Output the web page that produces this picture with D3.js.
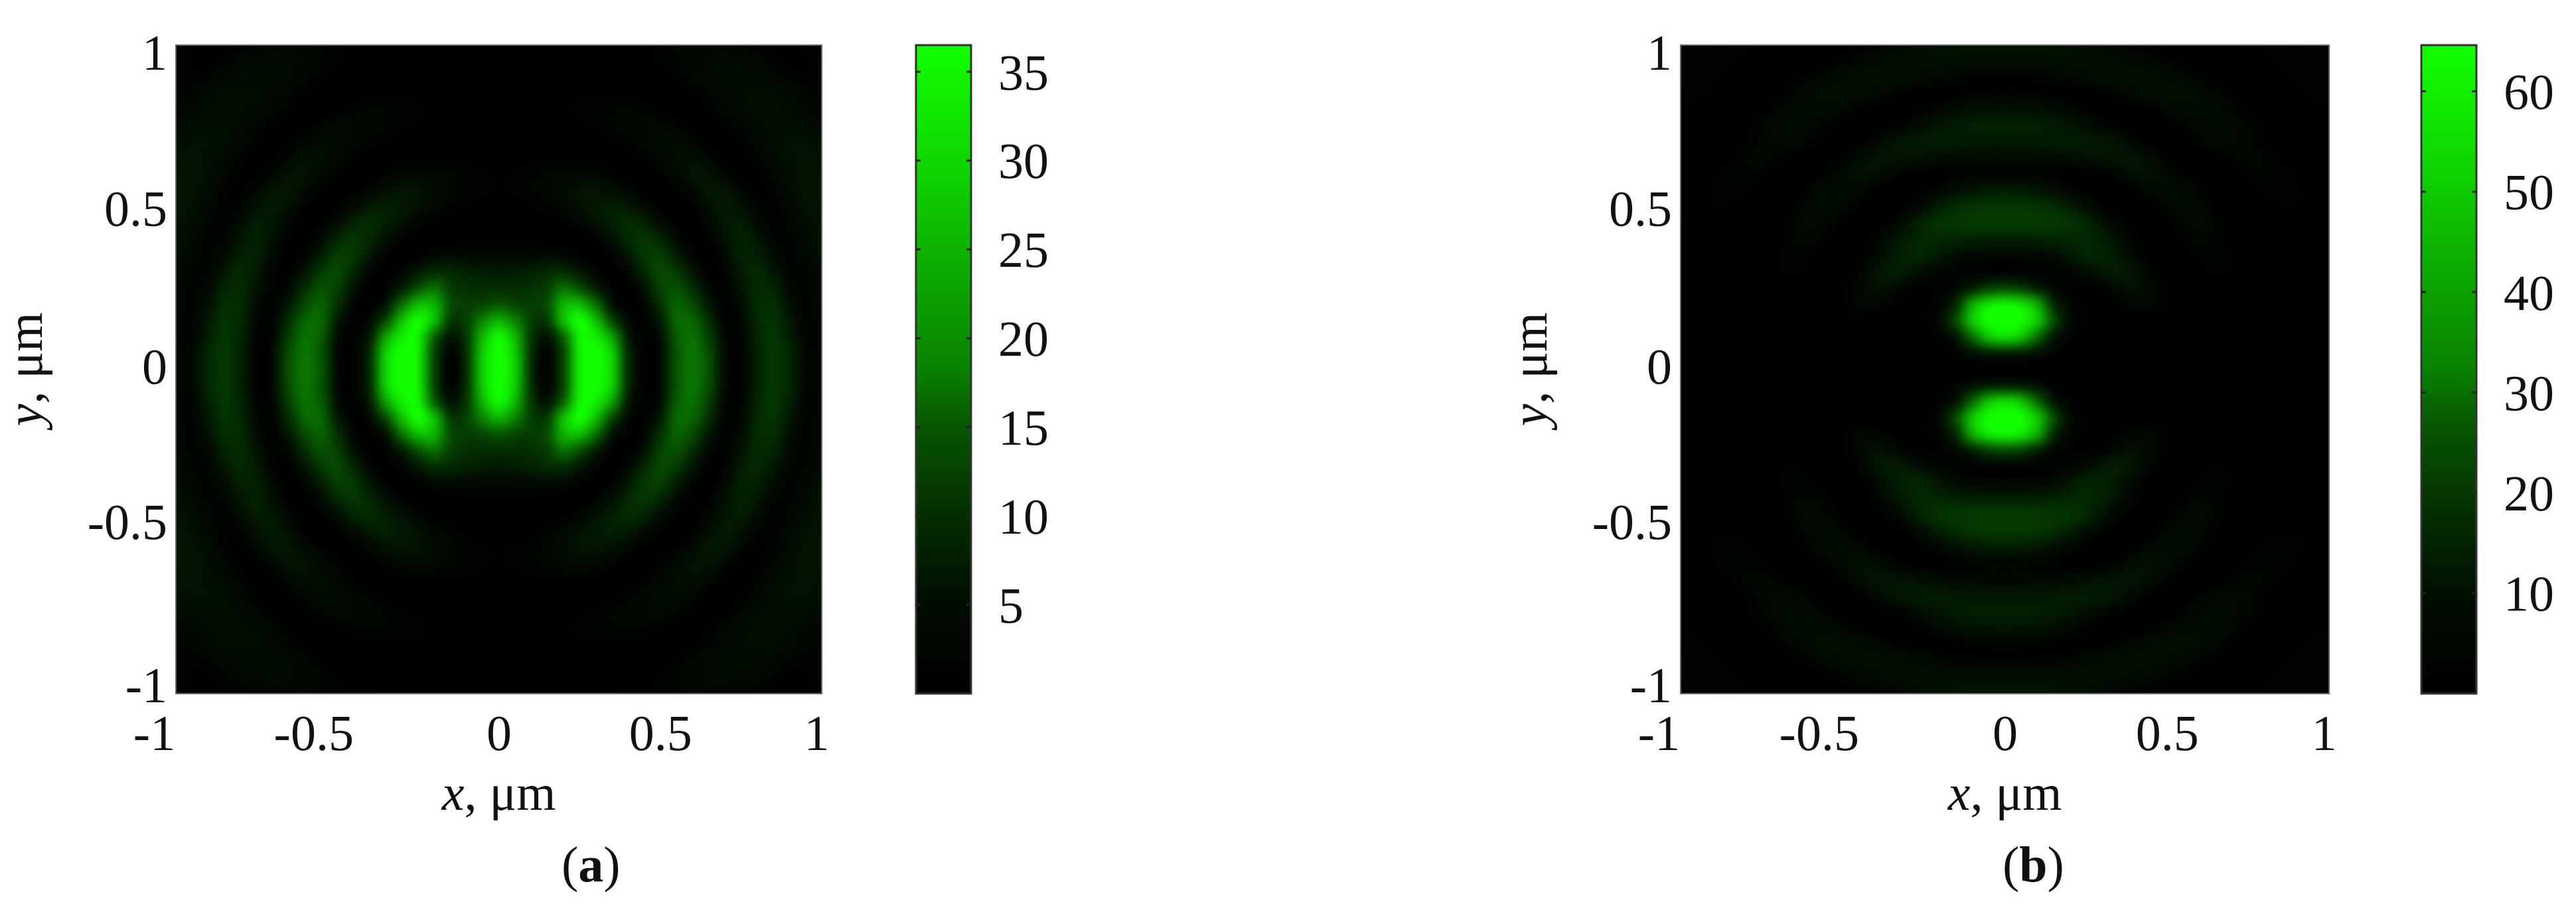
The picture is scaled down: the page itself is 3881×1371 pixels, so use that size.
<!doctype html>
<html lang="en">
  <head>
    <meta charset="utf-8">
    <title>Intensity maps</title>
    <script src="https://d3js.org/d3.v7.min.js"></script>
    <style>
    html, body { margin: 0; background: #fff; }
    svg { display: block; }
    text { font-family: "Liberation Serif", serif; font-size: 76px; fill: #111; }
    </style>
  </head>
  <body>
    <svg width="3881" height="1371"></svg>

    <script>
      var xTicks = [-1, -0.5, 0, 0.5, 1];
      var yTicks = [-1, -0.5, 0, 0.5, 1];
      var barTicksA = [5, 10, 15, 20, 25, 30, 35];
      var barTicksB = [10, 20, 30, 40, 50, 60];
      var barMaxA = 36.5;
      var barMaxB = 64.6;

      // colormap: share of the bar -> green level
      var barShare = [0, 0.137, 0.274, 0.41, 0.5, 0.82, 1];
      var barLevel = [0, 12, 45, 85, 130, 215, 255];

      // grid of the maps, only x >= 0 and y >= 0 is listed, both maps are mirrored across the axes
      var gridX = [0, 0.05, 0.1, 0.15, 0.2, 0.25, 0.3, 0.35, 0.4, 0.45, 0.5, 0.55, 0.6, 0.65, 0.7, 0.75, 0.8, 0.85, 0.9, 0.95, 1];
      var gridY = gridX;

      // green level, one row per gridY
      var levelsA = [
        [255,205,50,3,70,235,255,210,45,4,12,85,118,80,12,4,32,54,38,8,6],
        [255,200,52,5,72,235,255,205,45,4,12,80,115,76,12,4,32,54,37,8,6],
        [245,180,58,22,100,240,235,160,30,4,15,90,110,62,9,5,35,52,30,6,6],
        [175,130,65,60,185,250,190,75,12,3,28,100,98,46,5,8,39,49,24,5,7],
        [85,70,60,78,175,185,110,22,3,8,48,94,72,25,3,13,41,44,16,4,8],
        [45,44,48,62,110,80,32,5,2,18,62,78,46,10,3,19,40,34,10,4,9],
        [25,28,32,40,45,25,7,1,8,38,70,57,22,3,5,26,40,23,6,5,11],
        [8,9,10,12,10,4,1,4,22,54,60,30,7,1,10,31,31,12,4,7,14],
        [2,2,2,1,1,1,4,16,38,52,38,12,2,3,16,33,22,6,4,10,17],
        [1,1,1,1,2,6,16,30,41,34,14,3,1,8,22,28,12,3,6,13,19],
        [1,1,2,4,8,16,25,30,24,12,3,1,3,14,26,18,5,3,9,16,21],
        [2,3,4,7,12,18,20,16,8,2,1,3,10,22,20,8,2,4,12,19,22],
        [2,3,4,6,8,9,8,4,1,1,4,10,18,18,8,2,2,7,14,20,21],
        [1,1,2,2,2,2,2,1,1,3,8,14,16,8,2,1,4,10,16,19,18],
        [1,1,1,1,1,1,1,2,4,7,11,12,7,2,1,3,8,13,17,17,14],
        [1,1,1,1,1,2,3,5,7,8,8,5,2,1,2,6,11,15,16,13,10],
        [1,1,1,1,2,3,4,5,5,4,2,1,1,3,7,11,14,15,12,8,6],
        [1,1,1,1,1,2,2,2,2,1,1,1,2,5,9,12,14,13,10,6,4],
        [0,0,0,0,1,1,1,1,1,1,1,3,6,9,12,13,11,8,4,3,3],
        [0,0,0,0,0,0,0,0,1,1,3,5,7,9,10,9,7,4,2,2,4],
        [0,0,0,0,0,0,0,0,1,2,3,5,6,7,7,5,3,2,2,3,6]
      ];

      // green level, one row per gridY
      var levelsB = [
        [1,1,1,0,0,0,0,0,0,0,0,0,0,0,0,0,0,0,0,0,0],
        [35,32,18,5,1,0,0,0,0,0,0,0,0,0,0,0,0,0,0,0,0],
        [215,190,105,25,5,1,0,0,0,0,0,0,0,0,0,0,0,0,0,0,0],
        [255,250,195,75,12,2,1,0,0,1,1,0,0,0,0,0,0,0,0,0,0],
        [240,225,165,45,8,2,1,3,7,7,2,0,0,0,0,0,0,0,0,0,0],
        [75,65,35,10,3,1,4,12,16,8,2,1,0,0,0,0,0,0,0,0,0],
        [4,4,4,4,6,12,22,28,18,5,1,0,1,3,2,0,0,0,0,0,0],
        [8,8,8,12,22,34,34,22,8,1,0,1,3,5,2,1,0,0,0,0,0],
        [30,30,32,34,38,38,30,16,5,0,1,3,6,4,1,0,0,0,0,0,0],
        [58,58,56,54,50,38,18,6,1,0,2,6,10,5,1,0,0,0,0,0,0],
        [55,54,50,42,30,14,4,0,0,2,7,12,8,2,0,0,1,2,2,1,1],
        [28,27,22,15,8,3,1,0,3,8,13,12,5,1,0,1,3,4,3,1,1],
        [6,6,5,3,1,1,2,6,14,17,11,4,1,0,1,3,5,4,2,1,1],
        [8,8,9,10,12,15,18,20,19,12,4,1,0,1,4,6,5,2,1,1,1],
        [24,24,24,25,26,26,24,17,8,2,0,1,4,8,9,6,2,1,1,1,1],
        [30,30,29,26,21,14,7,3,1,0,1,4,8,11,10,5,2,1,1,1,1],
        [18,17,16,13,8,4,1,0,1,3,7,11,13,11,6,2,1,1,1,2,2],
        [4,4,3,2,1,1,2,5,9,13,15,15,11,6,2,1,1,1,2,3,3],
        [3,3,4,5,7,10,13,15,16,15,12,8,4,2,1,1,1,2,3,4,4],
        [14,14,15,16,16,16,15,13,10,7,4,2,1,1,1,1,2,3,4,4,4],
        [20,20,19,17,15,12,9,6,3,2,1,1,1,1,1,2,3,4,4,3,3]
      ];

      var plotTop = 68;
      var plotBottom = 1045;
      var barRight = 83;

      var levelColor = d3.scaleLinear().domain([0, 255]).range(['#000000', '#12ff00']).clamp(true);

      // per-label nudges, the labels in the picture do not sit centred on their ticks
      var xLabelShift = {'-1': -33, '-0.5': -36, '0': 0, '0.5': 0, '1': -8};
      var yLabelShift = {'-1': -13, '-0.5': -14, '0': -4, '0.5': 2, '1': 11};

      var svg = d3.select('svg');

      var catmull = function(a, b, c, d, t){
        return b + 0.5 * t * (c - a + t * (2 * a - 5 * b + 4 * c - d + t * (3 * (b - c) + d - a)));
      };

      // mirrored lookup so the quarter table covers the whole map
      var cell = function(table, i, j){
        var n = gridX.length - 1;
        i = Math.min(Math.abs(i), n);
        j = Math.min(Math.abs(j), n);
        return table[j][i];
      };

      var sample = function(table, x, y){
        var step = gridX[1] - gridX[0];
        var fx = Math.abs(x) / step, fy = Math.abs(y) / step;
        var i = Math.floor(fx), j = Math.floor(fy);
        var rows = [];
        for (var k = -1; k <= 2; k++){
          rows.push(catmull(cell(table, i - 1, j + k), cell(table, i, j + k), cell(table, i + 1, j + k), cell(table, i + 2, j + k), fx - i));
        }
        return catmull(rows[0], rows[1], rows[2], rows[3], fy - j);
      };

      var drawPanel = function(p){
        var xScale = d3.scaleLinear().domain([-1, 1]).range([p.left, p.right]);
        var yScale = d3.scaleLinear().domain([-1, 1]).range([plotBottom, plotTop]);

        var w = p.right - p.left, h = plotBottom - plotTop;
        var canvas = document.createElement('canvas');
        canvas.width = w;
        canvas.height = h;
        var ctx = canvas.getContext('2d');
        var img = ctx.createImageData(w, h);
        for (var py = 0; py < h; py++){
          var y = yScale.invert(plotTop + py + 0.5);
          for (var px = 0; px < w; px++){
            var x = xScale.invert(p.left + px + 0.5);
            var c = d3.rgb(levelColor(sample(p.levels, x, y)));
            var o = (py * w + px) * 4;
            img.data[o] = c.r;
            img.data[o + 1] = c.g;
            img.data[o + 2] = c.b;
            img.data[o + 3] = 255;
          }
        }
        ctx.putImageData(img, 0, 0);

        svg.append('image')
          .attr('x', p.left)
          .attr('y', plotTop)
          .attr('width', w)
          .attr('height', h)
          .attr('href', canvas.toDataURL());

        svg.append('rect')
          .attr('x', p.left)
          .attr('y', plotTop)
          .attr('width', w)
          .attr('height', h)
          .attr('fill', 'none')
          .attr('stroke', '#666')
          .attr('stroke-width', 2);

        var xAxis = d3.axisBottom(xScale).tickValues(xTicks).tickSize(0).tickFormat(String);
        var gx = svg.append('g').attr('transform', 'translate(0,' + plotBottom + ')').call(xAxis);
        gx.select('.domain').remove();
        gx.selectAll('text')
          .attr('y', 85)
          .attr('dy', 0)
          .attr('dx', function(d){ return xLabelShift[String(d)]; });

        var yAxis = d3.axisLeft(yScale).tickValues(yTicks).tickSize(0).tickFormat(String);
        var gy = svg.append('g').attr('transform', 'translate(' + p.left + ',0)').call(yAxis);
        gy.select('.domain').remove();
        gy.selectAll('text')
          .attr('x', -13)
          .attr('dy', 0)
          .attr('y', function(d){ return 25 + yLabelShift[String(d)]; });

        var xLabel = svg.append('text')
          .attr('x', (p.left + p.right) / 2)
          .attr('y', 1220)
          .attr('text-anchor', 'middle');
        xLabel.append('tspan').attr('font-style', 'italic').text('x');
        xLabel.append('tspan').text(', μm');

        var yLabel = svg.append('text')
          .attr('transform', 'translate(' + (p.left - 202) + ',' + ((plotTop + plotBottom) / 2) + ') rotate(-90)')
          .attr('text-anchor', 'middle');
        yLabel.append('tspan').attr('font-style', 'italic').text('y');
        yLabel.append('tspan').text(', μm');

        var tag = svg.append('text')
          .attr('x', p.tagX)
          .attr('y', 1328);
        tag.append('tspan').text('(');
        tag.append('tspan').attr('font-weight', 'bold').text(p.tag);
        tag.append('tspan').text(')');

        // colour bar
        var barScale = d3.scaleLinear().domain([0, p.barMax]).range([plotBottom, plotTop]);
        var shareToLevel = d3.scaleLinear().domain(barShare).range(barLevel);
        var barRows = d3.range(0, plotBottom - plotTop);
        svg.append('g').selectAll('rect').data(barRows).enter()
          .append('rect')
            .attr('x', p.barLeft)
            .attr('y', function(d){ return plotTop + d; })
            .attr('width', barRight)
            .attr('height', 1.5)
            .attr('fill', function(d){
              var v = barScale.invert(plotTop + d + 0.5);
              return levelColor(shareToLevel(v / p.barMax));
            });

        svg.append('rect')
          .attr('x', p.barLeft)
          .attr('y', plotTop)
          .attr('width', barRight)
          .attr('height', plotBottom - plotTop)
          .attr('fill', 'none')
          .attr('stroke', '#333')
          .attr('stroke-width', 3);

        var barAxis = d3.axisRight(barScale).tickValues(p.barTicks).tickSize(0).tickFormat(String);
        var gb = svg.append('g').attr('transform', 'translate(' + (p.barLeft + barRight) + ',0)').call(barAxis);
        gb.select('.domain').remove();
        gb.selectAll('text')
          .attr('x', 41)
          .attr('dy', 0)
          .attr('y', 26);

        // short inner ticks on both sides of the bar
        [[p.barLeft, 7], [p.barLeft + barRight, -7]].forEach(function(side){
          svg.append('g').selectAll('line').data(p.barTicks).enter()
            .append('line')
              .attr('x1', side[0])
              .attr('x2', side[0] + side[1])
              .attr('y1', function(d){ return barScale(d); })
              .attr('y2', function(d){ return barScale(d); })
              .attr('stroke', '#222')
              .attr('stroke-width', 3);
        });
      };

      drawPanel({left: 265, right: 1238, levels: levelsA, barLeft: 1380, barMax: barMaxA, barTicks: barTicksA, tag: 'a', tagX: 846});
      drawPanel({left: 2532, right: 3509, levels: levelsB, barLeft: 3648, barMax: barMaxB, barTicks: barTicksB, tag: 'b', tagX: 3017});

      // axis() writes its own font settings on the group, drop them so the stylesheet applies
      svg.selectAll('g').attr('font-size', null).attr('font-family', null);
    </script>
  </body>
</html>
